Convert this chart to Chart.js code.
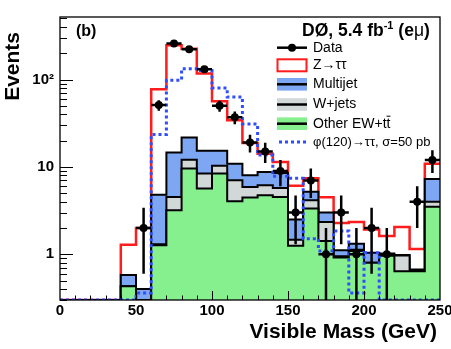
<!DOCTYPE html>
<html>
<head>
<meta charset="utf-8">
<script src="https://cdn.jsdelivr.net/npm/chart.js@4.4.0/dist/chart.umd.min.js"></script>
<style>
  html, body { margin: 0; padding: 0; background: #fff; }
  #wrap { width: 451px; height: 349px; }
</style>
</head>
<body>
<div id="wrap"><canvas id="chart" width="451" height="349"></canvas></div>
<script>
// bin edges of the visible mass histogram (GeV)
const binEdges = [0, 10, 20, 30, 40, 50, 60, 70, 80, 90, 100, 110, 120, 130, 140,
  150, 160, 170, 180, 190, 200, 210, 220, 230, 240, 250];

// observed events per bin and their errors
const dataCounts = [0, 0, 0, 0, 0, 2, 51, 258, 222, 131, 50, 37, 19, 15, 9, 3, 7, 1, 3, 1, 2, 1, 0, 4, 12];
const dataErrors = [0, 0, 0, 0, 0, 1.4, 7.1, 16.1, 14.9, 11.4, 7.1, 6.1, 4.4, 3.9, 3.0, 1.7, 2.6, 1.0, 1.7, 1.0, 1.4, 1.0, 0, 2.0, 3.5];

// background contributions (stacked, bottom to top)
const otherEW = [0, 0, 0, 0, 0.43, 0, 1.27, 3.19, 9.57, 5.65, 8.39, 4.04, 4.46, 4.74, 4.53, 1.25, 3.35, 1.42, 0.92, 1.09, 0.80, 0.96, 0.64, 0.64, 3.5];
const wJets = [0, 0, 0, 0, 0, 0, 0.03, 1.34, 2.53, 2.74, 1.91, 2.99, 1.44, 1.43, 1.22, 0.22, 0.80, 0.93, 0.03, 0.04, 0, 0.02, 0.33, 0.02, 0.5];
const multijet = [0, 0, 0, 0, 0.15, 0.40, 3.52, 10.1, 9.6, 6.9, 5.0, 3.87, 2.13, 2.6, 2.75, 1.03, 1.05, 0.65, 0.16, 0.19, 0.24, 0.04, 0.01, 0.01, 3.3];
const zTauTau = [0, 0, 0, 0, 0.71, 1.60, 72.7, 232, 204, 102, 41.2, 23.3, 10.8, 5.43, 2.9, 3.6, 2.2, 1.5, 1.17, 1.03, 0.88, 0.60, 1.08, 0.48, 3.6];

// signal phi(120) -> tautau, not stacked
const phi120 = [0, 0, 0, 0, 0, 0.36, 23.5, 98, 133, 127, 80, 63, 31, 13.7, 7.8, 7.4, 1.51, 1.09, 1.85, 0.36, 1.04, 0, 0, 0, 0];

// axis ticks
const xTickValues = [0, 50, 100, 150, 200, 250];
const yTickLabels = { 1: "1", 10: "10", 100: "10\u00B2" };

const Y_MIN = 0.3;
const Y_MAX = 520;

const COL_MULTI = "#7ea7f3";
const COL_WJETS = "#d2d8d8";
const COL_OTHER = "#86ef8e";
const COL_Z = "#ff1c1c";
const COL_PHI = "#2f4dff";
const FONT = "'Liberation Sans', Arial, Helvetica, sans-serif";

// somme cumulée pour le stack
function cumulate(...parts) {
  return parts[0].map((_, i) => parts.reduce((s, p) => s + p[i], 0));
}
const cumOther = cumulate(otherEW);
const cumW = cumulate(otherEW, wJets);
const cumMulti = cumulate(otherEW, wJets, multijet);
const cumZ = cumulate(otherEW, wJets, multijet, zTauTau);

// points en escalier (bord gauche de chaque bin + bord final)
function stepPoints(vals) {
  const pts = vals.map((v, i) => ({ x: binEdges[i], y: v > 0 ? v : Y_MIN }));
  pts.push({ x: binEdges[binEdges.length - 1], y: pts[pts.length - 1].y });
  return pts;
}

const dataPoints = [];
dataCounts.forEach((n, i) => {
  if (n > 0) dataPoints.push({ x: (binEdges[i] + binEdges[i + 1]) / 2, y: n });
});

function histDataset(label, vals, line, fillColor, width) {
  return {
    label: label,
    data: stepPoints(vals),
    stepped: "before",
    borderColor: line,
    borderWidth: width,
    backgroundColor: fillColor || "transparent",
    fill: fillColor ? "start" : false,
    pointRadius: 0,
  };
}

// barres d'erreur des données
const errorBars = {
  id: "errorBars",
  afterDatasetsDraw(chart) {
    const { ctx, chartArea: a } = chart;
    const x = chart.scales.x, y = chart.scales.y;
    ctx.save();
    ctx.beginPath();
    ctx.rect(a.left, a.top, a.right - a.left, a.bottom - a.top);
    ctx.clip();
    ctx.strokeStyle = "#000";
    ctx.lineWidth = 2.5;
    dataCounts.forEach((n, i) => {
      if (n <= 0) return;
      const cx = x.getPixelForValue((binEdges[i] + binEdges[i + 1]) / 2);
      const cy = y.getPixelForValue(n);
      const lo = n - dataErrors[i];
      const yLo = lo > 0 ? y.getPixelForValue(lo) : a.bottom;
      const yHi = y.getPixelForValue(n + dataErrors[i]);
      ctx.beginPath();
      ctx.moveTo(cx, yHi);
      ctx.lineTo(cx, yLo);
      ctx.moveTo(x.getPixelForValue(binEdges[i]), cy);
      ctx.lineTo(x.getPixelForValue(binEdges[i + 1]), cy);
      ctx.stroke();
    });
    ctx.restore();
  },
};

// cadre, graduations internes, légende et textes
const rootStyle = {
  id: "rootStyle",
  afterDraw(chart) {
    const { ctx, chartArea: a } = chart;
    const x = chart.scales.x, y = chart.scales.y;
    ctx.save();

    // graduations x
    ctx.strokeStyle = "#000";
    ctx.lineWidth = 1;
    ctx.beginPath();
    for (let v = 10; v < 250; v += 10) {
      const px = Math.round(x.getPixelForValue(v)) + 0.5;
      const len = v % 50 === 0 ? 9 : 4.5;
      ctx.moveTo(px, a.bottom);
      ctx.lineTo(px, a.bottom - len);
    }
    // graduations y (log)
    for (let d = -1; d <= 2; d++) {
      for (let k = 1; k <= 9; k++) {
        const v = k * Math.pow(10, d);
        if (v < Y_MIN - 1e-9 || v > Y_MAX) continue;
        const py = Math.round(y.getPixelForValue(v)) + 0.5;
        const len = k === 1 ? 13 : 7;
        ctx.moveTo(a.left, py);
        ctx.lineTo(a.left + len, py);
      }
    }
    ctx.stroke();

    // cadre
    ctx.lineWidth = 1.3;
    ctx.strokeRect(a.left, a.top, a.right - a.left, a.bottom - a.top);

    // titres des axes
    ctx.fillStyle = "#000";
    ctx.font = "bold 21px " + FONT;
    ctx.textAlign = "right";
    ctx.textBaseline = "alphabetic";
    ctx.fillText("Visible Mass (GeV)", 437, 338);
    ctx.save();
    ctx.translate(18.5, 32);
    ctx.rotate(-Math.PI / 2);
    ctx.font = "bold 21px " + FONT;
    ctx.textAlign = "right";
    ctx.fillText("Events", 0, 0);
    ctx.restore();

    // (b)
    ctx.textAlign = "left";
    ctx.font = "bold 16px " + FONT;
    ctx.fillText("(b)", 76, 36);

    // DØ, 5.4 fb-1 (eμ)
    let tx = 302;
    const base = 35.7;
    const parts = [
      ["DØ, 5.4 fb", "bold 17.5px", 0],
      ["-1", "bold 11px", -7],
      [" (e", "bold 17.5px", 0],
      ["\u03BC", "17.5px", 0],
      [")", "bold 17.5px", 0],
    ];
    parts.forEach(([t, f, dy]) => {
      ctx.font = f + " " + FONT;
      ctx.fillText(t, tx, base + dy);
      tx += ctx.measureText(t).width;
    });

    // légende
    const lx = 277, lw = 30, textX = 313;
    ctx.font = "14px " + FONT;
    ctx.textBaseline = "middle";

    // Data
    let ry = 47.7;
    ctx.lineWidth = 2.5;
    ctx.beginPath();
    ctx.moveTo(lx, ry);
    ctx.lineTo(lx + lw, ry);
    ctx.stroke();
    ctx.beginPath();
    ctx.arc(lx + lw / 2, ry, 4, 0, Math.PI * 2);
    ctx.fill();
    ctx.fillText("Data", textX, ry);

    // Z -> tautau
    ry = 65.3;
    ctx.strokeStyle = COL_Z;
    ctx.lineWidth = 2;
    ctx.strokeRect(lx + 0.5, ry - 6, lw - 1, 12);
    ctx.fillText("Z\u2192\u03C4\u03C4", textX, ry);

    // boîtes remplies
    const boxes = [
      [84.3, COL_MULTI, "Multijet"],
      [104.5, COL_WJETS, "W+jets"],
      [123.7, COL_OTHER, "Other EW+tt"],
    ];
    boxes.forEach(([by, col, label]) => {
      ctx.fillStyle = col;
      ctx.fillRect(lx, by - 6.3, lw, 12.6);
      ctx.strokeStyle = "#000";
      ctx.lineWidth = 2.5;
      ctx.beginPath();
      ctx.moveTo(lx, by);
      ctx.lineTo(lx + lw, by);
      ctx.stroke();
      ctx.fillStyle = "#000";
      ctx.fillText(label, textX, by);
    });
    // barre sur le second t
    const wFull = ctx.measureText("Other EW+tt").width;
    const wT = ctx.measureText("t").width;
    ctx.lineWidth = 1;
    ctx.beginPath();
    ctx.moveTo(textX + wFull - wT, 123.7 - 7.5);
    ctx.lineTo(textX + wFull, 123.7 - 7.5);
    ctx.stroke();

    // phi(120)
    ry = 142;
    ctx.strokeStyle = COL_PHI;
    ctx.lineWidth = 3;
    ctx.setLineDash([3, 3]);
    ctx.beginPath();
    ctx.moveTo(lx + 2, ry);
    ctx.lineTo(lx + lw, ry);
    ctx.stroke();
    ctx.setLineDash([]);
    ctx.font = "13px " + FONT;
    ctx.fillText("\u03C6(120)\u2192\u03C4\u03C4, \u03C3=50 pb", textX, ry);

    ctx.restore();
  },
};

const ctx = document.getElementById("chart").getContext("2d");
const chart = new Chart(ctx, {
  type: "line",
  data: {
    datasets: [
      {
        label: "Data",
        data: dataPoints,
        showLine: false,
        pointRadius: 4,
        pointBackgroundColor: "#000",
        pointBorderColor: "#000",
        pointBorderWidth: 0,
      },
      Object.assign(histDataset("phi(120)", phi120, COL_PHI, null, 3), {
        borderDash: [3, 3],
      }),
      histDataset("Other EW+tt", cumOther, "#000", COL_OTHER, 2),
      histDataset("W+jets", cumW, "#000", COL_WJETS, 2),
      histDataset("Multijet", cumMulti, "#000", COL_MULTI, 2),
      histDataset("Z->tautau", cumZ, COL_Z, null, 2.5),
    ],
  },
  options: {
    responsive: false,
    animation: false,
    devicePixelRatio: 1,
    layout: { padding: { top: 17, right: 11, left: 0, bottom: 0 } },
    plugins: {
      legend: { display: false },
      tooltip: { enabled: false },
    },
    scales: {
      x: {
        type: "linear",
        min: 0,
        max: 250,
        afterBuildTicks(scale) {
          scale.ticks = xTickValues.map((v) => ({ value: v }));
        },
        ticks: {
          autoSkip: false,
          maxRotation: 0,
          padding: 2,
          color: "#000",
          font: { family: FONT, size: 15, weight: "bold" },
        },
        grid: { display: false, drawTicks: false },
        border: { display: false },
        afterFit(scale) {
          scale.height = 49;
          scale.paddingLeft = 0;
          scale.paddingRight = 0;
        },
      },
      y: {
        type: "logarithmic",
        min: Y_MIN,
        max: Y_MAX,
        ticks: {
          autoSkip: false,
          padding: 6,
          color: "#000",
          font: { family: FONT, size: 15, weight: "bold" },
          callback(value) {
            const l = Math.log10(value);
            if (Math.abs(l - Math.round(l)) < 1e-6) {
              return yTickLabels[Math.round(value)] || "";
            }
            return "";
          },
        },
        grid: { display: false, drawTicks: false },
        border: { display: false },
        afterFit(scale) {
          scale.width = 60;
          scale.paddingTop = 0;
          scale.paddingBottom = 0;
        },
      },
    },
  },
  plugins: [errorBars, rootStyle],
});
</script>
</body>
</html>
